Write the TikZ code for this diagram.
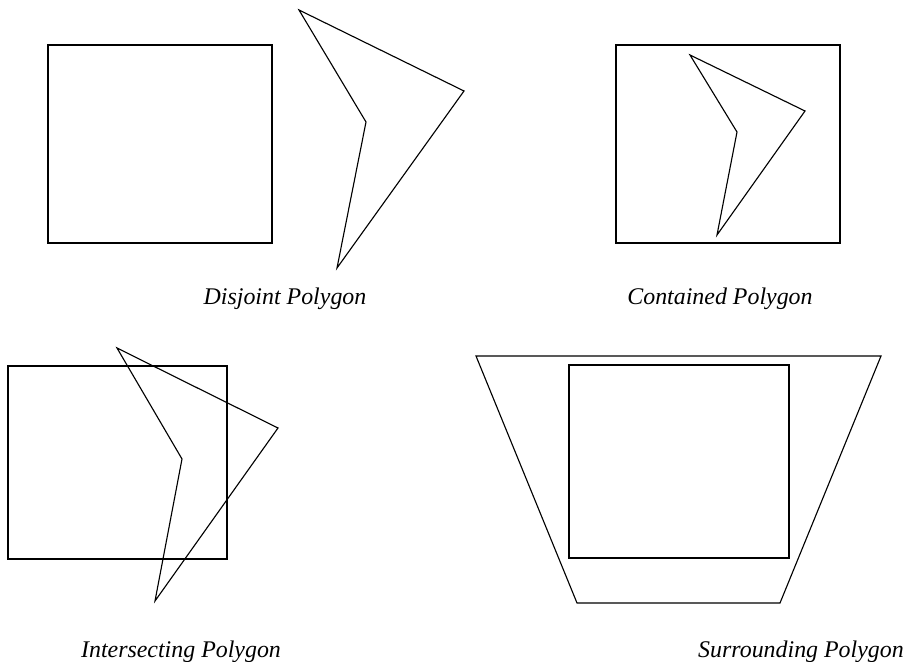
\documentclass[tikz,border=0pt]{standalone}
\usepackage{fontspec}
\setmainfont{Liberation Serif}
\usepackage{tikz}
\usetikzlibrary{positioning}

\begin{document}
\begin{tikzpicture}[
      x=0.025cm, y=-0.025cm,
      shape line/.style={draw=black, line width=0.8pt, line join=miter},
      caption/.style={font=\itshape\fontsize{17}{19}\selectfont, inner sep=0pt, anchor=base}
  ]
  \useasboundingbox (0,0) rectangle (908,662);

  % Disjoint polygon
  \draw[shape line] (48,45) rectangle (272,243);
  \draw[shape line] (299,10) -- (464,91) -- (337,268) -- (366,122) -- cycle;
  \node[caption] (disjoint) at (285,305) {Disjoint Polygon};

  % Contained polygon
  \draw[shape line] (616,45) rectangle (840,243);
  \draw[shape line] (690,55) -- (805,111) -- (717,235) -- (737,132) -- cycle;
  \node[caption] (contained) at (720,305) {Contained Polygon};

  % Intersecting polygon
  \draw[shape line] (8,366) rectangle (227,559);
  \draw[shape line] (117,348) -- (278,428) -- (155,601) -- (182,459) -- cycle;
  \node[caption] (intersecting) at (181,657) {Intersecting Polygon};

  % Surrounding polygon
  \draw[shape line] (476,356) -- (881,356) -- (780,603) -- (577,603) -- cycle;
  \draw[shape line] (569,365) rectangle (789,558);
  \node[caption] (surrounding) at (801,657) {Surrounding Polygon};
\end{tikzpicture}
\end{document}
